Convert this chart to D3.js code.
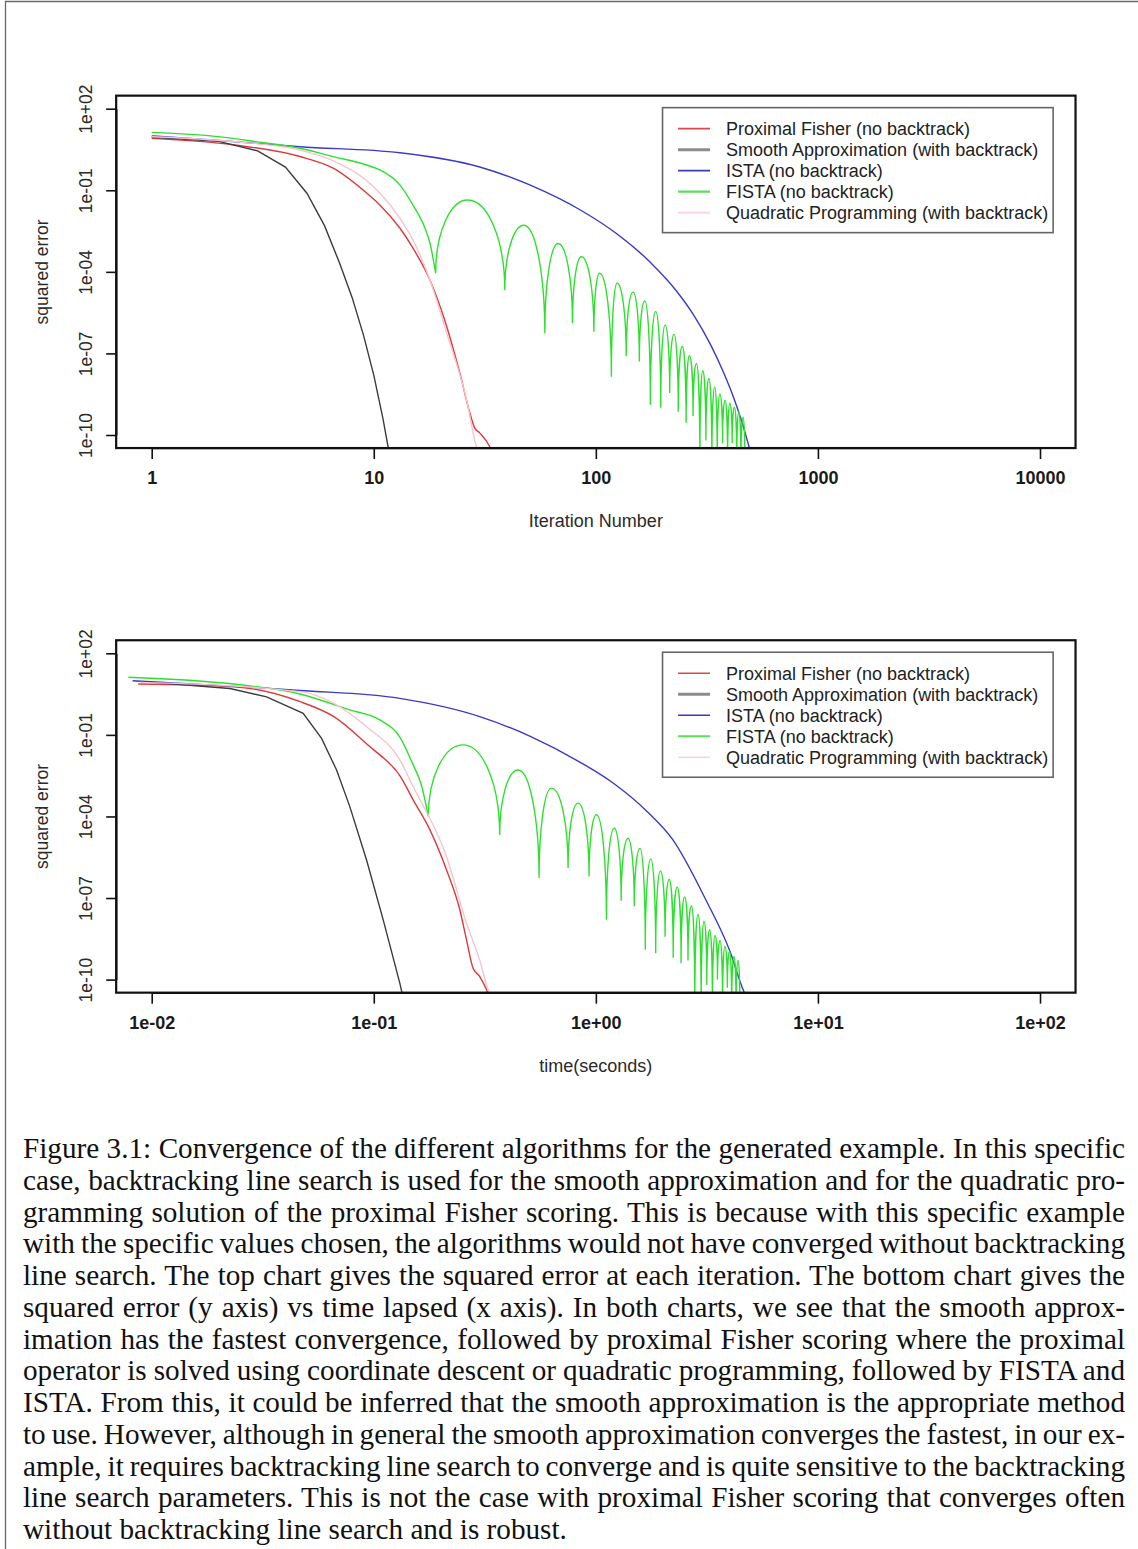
<!DOCTYPE html>
<html>
<head>
<meta charset="utf-8">
<script src="https://cdn.jsdelivr.net/npm/d3@7"></script>
<style>
body { margin: 0; background: #fff; }
svg text { font-family: "Liberation Sans", Arial, sans-serif; }
svg text.caption { font-family: "Liberation Serif", "Times New Roman", serif; }
</style>
</head>
<body>
<svg id="fig" width="1138" height="1549"></svg>
<script>
// ---- data ----
var legendNames = ["Proximal Fisher (no backtrack)", "Smooth Approximation (with backtrack)",
    "ISTA (no backtrack)", "FISTA (no backtrack)", "Quadratic Programming (with backtrack)"];

var errTicks = [1e2, 1e-1, 1e-4, 1e-7, 1e-10];
var errTickLabels = ["1e+02", "1e-01", "1e-04", "1e-07", "1e-10"];
var iterTicks = [1, 10, 100, 1000, 10000];
var iterTickLabels = ["1", "10", "100", "1000", "10000"];
var timeTicks = [0.01, 0.1, 1, 10, 100];
var timeTickLabels = ["1e-02", "1e-01", "1e+00", "1e+01", "1e+02"];

// top chart: [iteration, squared error]
var iterProxFisher = [[1, 8.1], [2.33, 4.7], [4.65, 1.74], [6.56, 0.65], [9.29, 0.079], [10.65, 0.029],
    [13.1, 4.1e-3], [15.0, 7.6e-4], [17.9, 5.0e-5], [21.3, 9.8e-7], [24.4, 1.9e-8], [27.1, 6.3e-10],
    [28.5, 1.8e-10], [30.0, 1.2e-10], [33.3, 3.7e-11], [34, 2.5e-11]];
var iterSmooth = [[1, 8.9], [2, 6.3], [3, 2.8], [4, 0.71], [5, 0.078], [6, 5.0e-3], [7, 2.2e-4],
    [8, 1.1e-5], [9, 4.5e-7], [10, 1.6e-8], [11, 4.0e-10], [12, 7.9e-12]];
var iterIsta = [[1, 10], [2, 6.8], [4.65, 4.0], [13.1, 2.4], [30, 0.72], [50.4, 0.157], [88.2, 0.0159],
    [124.2, 2.52e-3], [176.6, 2.18e-4], [231.2, 1.94e-5], [275.8, 2.58e-6], [328.9, 2.07e-7],
    [376.4, 1.95e-8], [417.5, 2.35e-9], [448.8, 4.2e-10], [482.6, 5.6e-11], [503, 1.7e-11]];
var iterFistaHead = [[1, 13.5], [2, 9.4], [3, 6.0], [4.65, 3.5], [6.56, 1.72], [9.28, 0.85],
    [10.65, 0.56], [13.1, 0.158], [15.0, 0.029], [17.0, 4.1e-3], [17.9, 1.15e-3]];
var iterFistaCusps = [[19.0, 8.9e-5], [38.9, 2.1e-5], [58.9, 5.5e-7], [78.5, 1.3e-6], [98, 6.3e-7],
    [117.5, 1.4e-8], [137, 7.9e-8], [157, 5.0e-8], [176, 1.3e-9], [196, 1.0e-9], [215, 3.5e-9],
    [235, 7.1e-10], [255, 2.8e-10], [274, 5.0e-10], [294, 1e-11], [313, 6.3e-11], [333, 1e-11],
    [352, 1e-11], [372, 5e-11], [392, 1e-11], [411, 5e-11], [431, 1e-11], [450, 1e-11], [470, 3e-12]];
var iterFistaPeaks = [[26.5, 0.044], [47.4, 5.2e-3], [67.6, 1.1e-3], [86.1, 3.6e-4], [104, 8.9e-5],
    [124.6, 3.8e-5], [147, 1.8e-5], [166, 8.5e-6], [186, 3.5e-6], [205, 1.1e-6], [225, 5.0e-7],
    [245, 1.8e-7], [264, 8.5e-8], [284, 4.3e-8], [303, 2.3e-8], [323, 1.2e-8], [343, 5.9e-9],
    [362, 3.2e-9], [382, 1.9e-9], [401, 1.5e-9], [421, 1.05e-9], [440, 7.1e-10], [460, 4.5e-10]];
var iterQuadProg = [[1, 9.3], [2.32, 6.2], [4.65, 3.0], [6.5, 1.25], [9.26, 0.23], [10.65, 0.079],
    [13.1, 9.5e-3], [15.0, 1.5e-3], [17.9, 5.0e-5], [21.3, 5.6e-7], [26.2, 1.9e-9], [29.0, 3.7e-11],
    [29.5, 2.5e-11]];

// bottom chart: [seconds, squared error]
var timeProxFisher = [[0.0087, 7.4], [0.0234, 5.9], [0.0466, 1.66], [0.0661, 0.47], [0.1, 0.028],
    [0.1068, 0.018], [0.131, 3.2e-3], [0.1504, 4.1e-4], [0.179, 3.2e-5], [0.2127, 1.07e-6],
    [0.244, 3.7e-8], [0.2616, 2.9e-9], [0.28, 2.6e-10], [0.3, 1.3e-10], [0.322, 4.2e-11], [0.33, 2.5e-11]];
var timeSmooth = [[0.00917, 9.1], [0.0225, 5.1], [0.0329, 2.5], [0.0481, 0.62], [0.0582, 0.074],
    [0.068, 5.1e-3], [0.078, 2.3e-4], [0.0928, 2.5e-6], [0.1102, 1.6e-8], [0.131, 7.4e-11], [0.135, 2.5e-11]];
var timeIsta = [[0.0082, 9.8], [0.0277, 5.7], [0.0466, 4.3], [0.131, 2.2], [0.300, 0.47], [0.504, 0.09],
    [0.843, 0.0102], [1.2, 1.66e-3], [1.69, 1.6e-4], [2.22, 1.4e-5], [3.13, 8.5e-8], [4.0, 1.2e-9],
    [4.63, 3.8e-11], [4.8, 2.0e-11]];
var timeFistaHead = [[0.00785, 13.2], [0.0233, 7.4], [0.0465, 3.2], [0.078, 0.83], [0.1065, 0.355],
    [0.131, 0.083], [0.1504, 7.9e-3], [0.1646, 1.26e-3]];
var timeFistaCusps = [[0.176, 9.8e-5], [0.369, 2.1e-5], [0.555, 5.4e-7], [0.75, 1.26e-6], [0.932, 6.2e-7],
    [1.116, 1.6e-8], [1.30, 7.9e-8], [1.49, 5.0e-8], [1.67, 1.26e-9], [1.86, 9.3e-10], [2.05, 3.8e-9],
    [2.23, 6.3e-10], [2.42, 4.0e-10], [2.60, 5.0e-10], [2.79, 1e-11], [2.98, 1e-11], [3.16, 6.3e-11],
    [3.35, 1e-11], [3.53, 1e-10], [3.72, 1e-11], [3.91, 5e-11], [4.09, 1e-11], [4.28, 1e-11], [4.46, 3e-12]];
var timeFistaPeaks = [[0.2525, 0.043], [0.4467, 5.1e-3], [0.631, 1.1e-3], [0.8315, 3.1e-4], [1.006, 1.15e-4],
    [1.209, 3.7e-5], [1.395, 1.55e-5], [1.581, 6.6e-6], [1.767, 2.75e-6], [1.953, 1.0e-6], [2.139, 4.8e-7],
    [2.325, 2.5e-7], [2.511, 1.1e-7], [2.697, 5.1e-8], [2.883, 2.5e-8], [3.069, 1.4e-8], [3.255, 6.8e-9],
    [3.441, 4.2e-9], [3.627, 2.75e-9], [3.813, 1.7e-9], [4.0, 1.1e-9], [4.185, 7.1e-10], [4.371, 5.1e-10]];
var timeQuadProg = [[0.0089, 8.5], [0.0466, 3.9], [0.0661, 1.45], [0.0928, 0.2], [0.131, 0.012],
    [0.1504, 1.26e-3], [0.2127, 3.3e-6], [0.2616, 1.17e-8], [0.3, 5.2e-10], [0.327, 4.2e-11], [0.335, 2.5e-11]];

var captionLines = [
    "Figure 3.1: Convergence of the different algorithms for the generated example. In this specific",
    "case, backtracking line search is used for the smooth approximation and for the quadratic pro-",
    "gramming solution of the proximal Fisher scoring. This is because with this specific example",
    "with the specific values chosen, the algorithms would not have converged without backtracking",
    "line search. The top chart gives the squared error at each iteration. The bottom chart gives the",
    "squared error (y axis) vs time lapsed (x axis). In both charts, we see that the smooth approx-",
    "imation has the fastest convergence, followed by proximal Fisher scoring where the proximal",
    "operator is solved using coordinate descent or quadratic programming, followed by FISTA and",
    "ISTA. From this, it could be inferred that the smooth approximation is the appropriate method",
    "to use. However, although in general the smooth approximation converges the fastest, in our ex-",
    "ample, it requires backtracking line search to converge and is quite sensitive to the backtracking",
    "line search parameters. This is not the case with proximal Fisher scoring that converges often",
    "without backtracking line search and is robust."
];

var lineColors = ["#dc3a3a", "#3c3c3c", "#3a3ac8", "#2ee02e", "#f6c4cc"];
var legendColors = ["#d84a4a", "#8c8c8c", "#3a3ab8", "#5ae05a", "#f8d4da"];
var legendWidths = [1.6, 3, 1.6, 2.2, 1.6];

var svg = d3.select("#fig");

// page frame (left and top rule)
svg.append("path")
    .attr("d", "M5.5,1549V1.5H1138")
    .attr("fill", "none")
    .attr("stroke", "#6a6a6a")
    .attr("stroke-width", 1.3);

// FISTA: smooth head, then one rounded arch per pair of cusps
function fistaPath(head, cusps, peaks, x, y) {
    var pts = head.concat([cusps[0]]).map(function (d) { return [x(d[0]), y(d[1])]; });
    var s = d3.line().curve(d3.curveMonotoneX)(pts);
    var p = d3.path(), k = 0.55;
    for (var i = 0; i < peaks.length; i++) {
        var x0 = x(cusps[i][0]), y0 = y(cusps[i][1]);
        var xp = x(peaks[i][0]), yp = y(peaks[i][1]);
        var x1 = x(cusps[i + 1][0]), y1 = y(cusps[i + 1][1]);
        p.bezierCurveTo(x0, y0 + k * (yp - y0), xp - k * (xp - x0), yp, xp, yp);
        p.bezierCurveTo(xp + k * (x1 - xp), yp, x1, y1 + k * (yp - y1), x1, y1);
    }
    return s + p.toString();
}

function panel(opt) {
    var x = d3.scaleLog().domain(opt.xDomain).range([151.7, 1040]);
    var y = d3.scaleLog().domain([1e-10, 1e2]).range([opt.top + 326.3, opt.top]);
    var padX = 0.04 * (x.range()[1] - x.range()[0]);
    var padY = 0.04 * (y.range()[0] - y.range()[1]);
    var bx0 = x.range()[0] - padX, bx1 = x.range()[1] + padX;
    var by0 = y.range()[1] - padY, by1 = y.range()[0] + padY;

    var g = svg.append("g");
    g.append("clipPath").attr("id", "clip" + opt.id)
        .append("rect")
        .attr("x", bx0).attr("y", by0)
        .attr("width", bx1 - bx0).attr("height", by1 - by0);

    var plot = g.append("g").attr("clip-path", "url(#clip" + opt.id + ")");

    var smooth = d3.line()
        .x(function (d) { return x(d[0]); })
        .y(function (d) { return y(d[1]); })
        .curve(d3.curveMonotoneX);
    var straight = d3.line()
        .x(function (d) { return x(d[0]); })
        .y(function (d) { return y(d[1]); });

    plot.append("path").attr("d", smooth(opt.prox)).attr("stroke", lineColors[0]);
    plot.append("path").attr("d", straight(opt.smooth)).attr("stroke", lineColors[1]);
    plot.append("path").attr("d", smooth(opt.ista)).attr("stroke", lineColors[2]);
    plot.append("path").attr("d", fistaPath(opt.fistaHead, opt.fistaCusps, opt.fistaPeaks, x, y))
        .attr("stroke", lineColors[3]);
    plot.append("path").attr("d", smooth(opt.qp)).attr("stroke", lineColors[4]);
    plot.selectAll("path").attr("fill", "none").attr("stroke-width", 1.4);

    // box
    g.append("rect")
        .attr("x", bx0).attr("y", by0)
        .attr("width", bx1 - bx0).attr("height", by1 - by0)
        .attr("fill", "none").attr("stroke", "#111").attr("stroke-width", 2.2);

    // axes
    var gy = g.append("g")
        .attr("transform", "translate(" + bx0 + ",0)")
        .call(d3.axisLeft(y).tickValues(errTicks)
            .tickFormat(function (d, i) { return errTickLabels[i]; })
            .tickSize(10).tickSizeOuter(0));
    var gx = g.append("g")
        .attr("transform", "translate(0," + by1 + ")")
        .call(d3.axisBottom(x).tickValues(opt.xTicks)
            .tickFormat(function (d, i) { return opt.xLabels[i]; })
            .tickSize(11).tickSizeOuter(0));
    g.selectAll(".tick line, .domain").attr("stroke", "#111").attr("stroke-width", 1.6);
    gy.attr("font-family", null).attr("font-size", null);
    gx.attr("font-family", null).attr("font-size", null);

    gy.selectAll("text")
        .attr("x", null).attr("dy", null)
        .attr("transform", "translate(-24,0) rotate(-90)")
        .attr("text-anchor", "middle")
        .attr("font-size", 17.5)
        .attr("fill", "#2a2a2a");
    gx.selectAll("text")
        .attr("y", 36).attr("dy", null)
        .attr("font-size", 18)
        .attr("font-weight", "bold")
        .attr("fill", "#1a1a1a");

    // titles
    g.append("text")
        .attr("x", (bx0 + bx1) / 2).attr("y", by1 + 79)
        .attr("text-anchor", "middle").attr("font-size", 18).attr("fill", "#2a2a2a")
        .text(opt.xTitle);
    g.append("text")
        .attr("transform", "translate(48," + (by0 + by1) / 2 + ") rotate(-90)")
        .attr("text-anchor", "middle").attr("font-size", 17.5).attr("fill", "#2a2a2a")
        .text("squared error");

    // legend
    var lx = bx1 - 413, ly = by0 + 12;
    var lg = g.append("g").attr("transform", "translate(" + lx + "," + ly + ")");
    lg.append("rect")
        .attr("width", 390.6).attr("height", 125)
        .attr("fill", "#fff").attr("stroke", "#666").attr("stroke-width", 1.6);
    var item = lg.selectAll(".item").data(legendNames).enter().append("g")
        .attr("transform", function (d, i) { return "translate(0," + (21 + 21 * i) + ")"; });
    item.append("line")
        .attr("x1", 15.5).attr("x2", 47.5)
        .attr("stroke", function (d, i) { return legendColors[i]; })
        .attr("stroke-width", function (d, i) { return legendWidths[i]; });
    item.append("text")
        .attr("x", 63.5).attr("y", 6.3)
        .attr("font-size", 18).attr("fill", "#222")
        .text(function (d) { return d; });
}

panel({
    id: "iter", top: 108.7, xDomain: [1, 10000], xTicks: iterTicks, xLabels: iterTickLabels,
    xTitle: "Iteration Number",
    prox: iterProxFisher, smooth: iterSmooth, ista: iterIsta,
    fistaHead: iterFistaHead, fistaCusps: iterFistaCusps, fistaPeaks: iterFistaPeaks, qp: iterQuadProg
});
panel({
    id: "time", top: 653.3, xDomain: [0.01, 100], xTicks: timeTicks, xLabels: timeTickLabels,
    xTitle: "time(seconds)",
    prox: timeProxFisher, smooth: timeSmooth, ista: timeIsta,
    fistaHead: timeFistaHead, fistaCusps: timeFistaCusps, fistaPeaks: timeFistaPeaks, qp: timeQuadProg
});

// caption, justified between the same margins as the figure
var cap = svg.append("g").attr("fill", "#111");
var probe = cap.append("text").attr("class", "caption").attr("font-size", 24)
    .text(captionLines[captionLines.length - 1]);
var capSize = 24 * 544 / probe.node().getComputedTextLength();
probe.remove();
captionLines.forEach(function (t, i) {
    var tx = cap.append("text")
        .attr("class", "caption")
        .attr("x", 23).attr("y", 1158 + i * 31.75)
        .attr("font-size", capSize)
        .text(t);
    if (i < captionLines.length - 1) {
        var w = tx.node().getComputedTextLength();
        var gaps = t.split(" ").length - 1;
        tx.style("word-spacing", ((1102 - w) / gaps) + "px");
    }
});
</script>
</body>
</html>
